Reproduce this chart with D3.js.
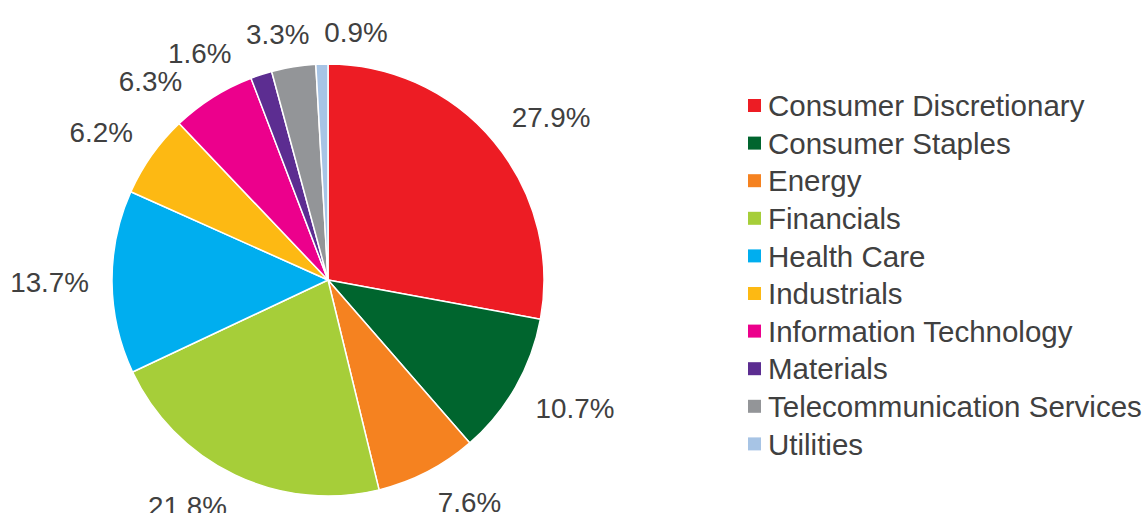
<!DOCTYPE html>
<html>
<head>
<meta charset="utf-8">
<script src="https://cdn.jsdelivr.net/npm/d3@7"></script>
<style>
  html, body { margin: 0; padding: 0; background: #fff; }
  svg { display: block; font-family: "Liberation Sans", Arial, sans-serif; }
</style>
</head>
<body>
<svg id="chart" width="1145" height="513"></svg>
<script>
// Sector weights (%)
const sectors = [
  "Consumer Discretionary", "Consumer Staples", "Energy", "Financials",
  "Health Care", "Industrials", "Information Technology", "Materials",
  "Telecommunication Services", "Utilities"
];
const weights = [27.9, 10.7, 7.6, 21.8, 13.7, 6.2, 6.3, 1.6, 3.3, 0.9];
const colors = [
  "#ED1C24", "#00652E", "#F58220", "#A6CE39", "#00AEEF",
  "#FDB913", "#EC008C", "#5C2D91", "#939598", "#A7C4E5"
];

const svg = d3.select("#chart");
const cx = 328, cy = 280, radius = 216;
const textColor = "#404040";

const color = d3.scaleOrdinal().domain(sectors).range(colors);
const data = sectors.map((s, i) => ({ sector: s, value: weights[i] }));

const pie = d3.pie().value(d => d.value).sort(null);
const arcs = pie(data);
const arc = d3.arc().innerRadius(0).outerRadius(radius);

const g = svg.append("g").attr("transform", `translate(${cx},${cy})`);

g.selectAll("path.slice")
  .data(arcs)
  .enter().append("path")
  .attr("class", "slice")
  .attr("d", arc)
  .attr("fill", d => color(d.data.sector))
  .attr("stroke", "#fff")
  .attr("stroke-width", 1.5)
  .attr("stroke-linejoin", "round");

// Outside-end data labels
const labelSize = 27.8;
const capH = labelSize * 0.716;
const anchorR = radius + 23;

const labels = g.selectAll("text.lbl")
  .data(arcs)
  .enter().append("text")
  .attr("class", "lbl")
  .attr("text-anchor", "middle")
  .attr("font-size", labelSize)
  .attr("fill", textColor)
  .text(d => d3.format(".1f")(d.data.value) + "%");

const items = [];
labels.each(function(d) {
  items.push({
    node: this,
    ang: (d.startAngle + d.endAngle) / 2,
    w: this.getComputedTextLength(),
    h: capH
  });
});

function place(it) {
  const ux = Math.sin(it.ang), uy = -Math.cos(it.ang);
  const px = ux * anchorR, py = uy * anchorR;
  const k = 2.2;
  const fx = Math.max(-1, Math.min(1, ux * k));
  const fy = Math.max(-1, Math.min(1, uy * k));
  it.x = px + fx * it.w / 2;
  it.y = py + fy * it.h / 2;
}

// Label boxes keep a little clear space around the glyphs
const padX = 14, padY = 8;
function overlap(a, b) {
  return Math.abs(a.x - b.x) < (a.w + b.w) / 2 + padX &&
         Math.abs(a.y - b.y) < (a.h + b.h) / 2 + padY;
}

// Spread crowded labels apart along the circle (earlier label yields a bit more)
items.sort((a, b) => a.ang - b.ang);
items.forEach(place);
const step = 0.003;
for (let iter = 0; iter < 1500; iter++) {
  let moved = false;
  for (let i = 0; i < items.length; i++) {
    const a = items[i];
    const b = items[(i + 1) % items.length];
    if (a === b) continue;
    if (overlap(a, b)) {
      a.ang -= step * 1.12;
      b.ang += step * 0.88;
      place(a); place(b);
      moved = true;
    }
  }
  if (!moved) break;
}

items.forEach(it => {
  d3.select(it.node)
    .attr("x", it.x)
    .attr("y", it.y + it.h / 2);
});

// Legend
const legendX = 748, legendY0 = 105.5, rowH = 37.6, box = 13;
const legend = svg.append("g");
const rows = legend.selectAll("g.row")
  .data(sectors)
  .enter().append("g")
  .attr("class", "row")
  .attr("transform", (d, i) => `translate(${legendX},${legendY0 + i * rowH})`);

rows.append("rect")
  .attr("x", 0)
  .attr("y", -box / 2)
  .attr("width", box)
  .attr("height", box)
  .attr("fill", d => color(d));

rows.append("text")
  .attr("x", 20)
  .attr("y", 0)
  .attr("dy", "0.36em")
  .attr("font-size", 29.5)
  .attr("fill", textColor)
  .text(d => d);
</script>
</body>
</html>
